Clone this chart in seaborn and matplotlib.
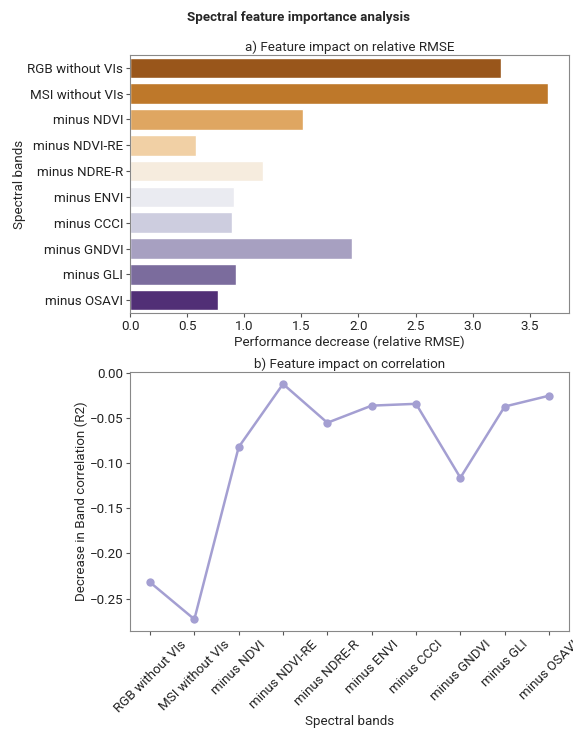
import matplotlib
matplotlib.use("Agg")
import matplotlib.pyplot as plt
import seaborn as sns
import pandas as pd

bands = ["RGB without VIs", "MSI without VIs", "minus NDVI", "minus NDVI-RE",
         "minus NDRE-R", "minus ENVI", "minus CCCI", "minus GNDVI",
         "minus GLI", "minus OSAVI"]
rmse_decrease = [3.25, 3.66, 1.51, 0.58, 1.16, 0.91, 0.89, 1.94, 0.93, 0.77]
r2_decrease = [-0.232, -0.273, -0.082, -0.012, -0.055, -0.036, -0.034,
               -0.116, -0.037, -0.025]

sns.set_style("ticks")
plt.rcParams["font.family"] = ["Roboto", "DejaVu Sans"]
plt.rcParams["axes.edgecolor"] = "#888888"
plt.rcParams["xtick.color"] = "#555555"
plt.rcParams["ytick.color"] = "#555555"
plt.rcParams["xtick.labelcolor"] = "#222222"
plt.rcParams["ytick.labelcolor"] = "#222222"
plt.rcParams["xtick.major.size"] = 3
plt.rcParams["ytick.major.size"] = 3

FS = 9.6
df = pd.DataFrame({"band": bands, "rmse": rmse_decrease, "r2": r2_decrease})

fig = plt.figure(figsize=(5.73, 7.29), dpi=100)
ax1 = fig.add_axes([0.227, 0.5706, 0.766, 0.354])
ax2 = fig.add_axes([0.227, 0.1344, 0.766, 0.355])

sns.barplot(data=df, y="band", x="rmse", hue="band", palette="PuOr",
            legend=False, ax=ax1)
ax1.set_title("a) Feature impact on relative RMSE", fontsize=FS, pad=3)
ax1.set_xlabel("Performance decrease (relative RMSE)", fontsize=FS, labelpad=2)
ax1.set_ylabel("Spectral bands", fontsize=FS, labelpad=1)
ax1.tick_params(labelsize=FS, pad=2)

sns.lineplot(data=df, x="band", y="r2", color="#a49fd2", marker="o",
             markersize=6, markeredgewidth=0, linewidth=1.8, sort=False, ax=ax2)
ax2.set_title("b) Feature impact on correlation", fontsize=FS, pad=3)
ax2.set_xlabel("Spectral bands", fontsize=FS, labelpad=0)
ax2.set_ylabel("Decrease in Band correlation (R2)", fontsize=FS, labelpad=1)
ax2.tick_params(labelsize=FS, pad=2)
for lab in ax2.get_xticklabels():
    lab.set_rotation(45)
    lab.set_ha("center")

for ax in (ax1, ax2):
    for s in ax.spines.values():
        s.set_visible(True)
        s.set_color("#888888")

fig.suptitle("Spectral feature importance analysis", fontsize=FS,
             fontweight="bold", x=0.521, y=0.985)

fig.savefig("out.png", dpi=100)
